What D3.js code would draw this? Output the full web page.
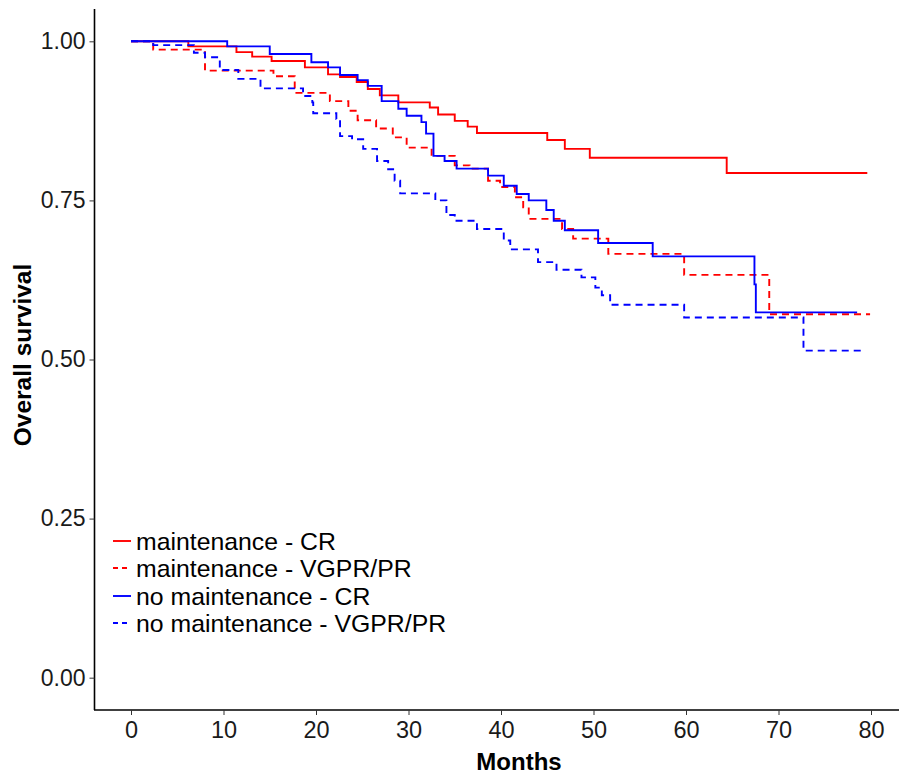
<!DOCTYPE html>
<html>
<head>
<meta charset="utf-8">
<script src="https://cdn.jsdelivr.net/npm/d3@7"></script>
<style>
  html, body { margin: 0; padding: 0; background: #fff; }
  svg { display: block; }
  text { font-family: "Liberation Sans", Arial, Helvetica, sans-serif; }
</style>
</head>
<body>
<script>
// ---- Data (months, survival probability) ----
const seriesNames = ["maintenance - CR", "maintenance - VGPR/PR", "no maintenance - CR", "no maintenance - VGPR/PR"];
const seriesColors = ["#ff0000", "#ff0000", "#0000ff", "#0000ff"];
const seriesDashed = [false, true, false, true];

const maintCR = [
  [0,1.0],[6.2,0.992],[11.4,0.983],[13.1,0.976],[15.2,0.969],[18.8,0.959],[21.3,0.948],[22.6,0.944],
  [24.4,0.936],[25.6,0.925],[26.9,0.915],[28.9,0.904],[32.3,0.896],[33.2,0.885],[35.0,0.875],
  [36.4,0.866],[37.4,0.856],[45.0,0.845],[46.9,0.831],[49.6,0.817],[64.4,0.793],[79.6,0.793]
];
const maintVGPR = [
  [0,1.0],[2.4,0.987],[8.0,0.954],[15.4,0.945],[17.7,0.919],[21.5,0.906],[23.5,0.891],[24.5,0.876],
  [26.5,0.863],[28.3,0.849],[29.8,0.833],[32.5,0.820],[35.0,0.805],[36.6,0.800],[38.6,0.781],
  [39.9,0.771],[41.5,0.755],[42.4,0.739],[43.0,0.721],[46.6,0.705],[47.8,0.690],[51.6,0.666],
  [59.8,0.633],[69.0,0.571],[79.9,0.571]
];
const noMaintCR = [
  [0,1.0],[10.4,0.992],[15.0,0.980],[19.5,0.967],[21.3,0.959],[22.6,0.947],[24.5,0.939],[25.6,0.930],
  [27.1,0.906],[28.9,0.894],[29.8,0.883],[31.4,0.873],[31.9,0.855],[32.7,0.820],[33.9,0.812],
  [35.2,0.800],[38.6,0.789],[40.3,0.773],[41.7,0.760],[43.0,0.750],[44.9,0.735],[45.7,0.718],
  [46.9,0.703],[50.5,0.683],[56.4,0.662],[67.4,0.618],[67.55,0.574],[78.5,0.574]
];
const noMaintVGPR = [
  [0,1.0],[2.4,0.994],[6.8,0.982],[8.0,0.975],[9.6,0.955],[11.6,0.941],[14.0,0.926],[18.6,0.914],
  [19.6,0.904],[19.7,0.887],[22.2,0.878],[22.6,0.851],[23.9,0.846],[25.1,0.831],[26.6,0.812],
  [27.8,0.799],[28.5,0.781],[29.1,0.761],[32.9,0.750],[34.1,0.727],[35.0,0.718],[37.4,0.705],
  [40.3,0.687],[41.0,0.673],[44.0,0.653],[46.0,0.641],[48.7,0.629],[50.2,0.613],[50.9,0.601],
  [51.8,0.586],[59.8,0.566],[72.7,0.514],[79.0,0.514]
];
const allSeries = [maintCR, maintVGPR, noMaintCR, noMaintVGPR];

const xTicks = [0, 10, 20, 30, 40, 50, 60, 70, 80];
const yTicks = [0, 0.25, 0.5, 0.75, 1.0];
const xTitle = "Months";
const yTitle = "Overall survival";

// ---- Layout ----
const W = 899, H = 780;
const svg = d3.select("body").append("svg").attr("width", W).attr("height", H);

const x = d3.scaleLinear().domain([-4, 84]).range([94, 908]);
const y = d3.scaleLinear().domain([-0.05, 1.05]).range([709.5, 9.5]);

// clip to panel
svg.append("defs").append("clipPath").attr("id", "panel")
  .append("rect").attr("x", 94).attr("y", 0).attr("width", W - 94).attr("height", 710);

// curves
const line = d3.line().x(d => x(d[0])).y(d => y(d[1])).curve(d3.curveStepAfter);
const g = svg.append("g").attr("clip-path", "url(#panel)");
allSeries.forEach((s, i) => {
  g.append("path").datum(s)
    .attr("d", line)
    .attr("fill", "none")
    .attr("stroke", seriesColors[i])
    .attr("stroke-width", 1.9)
    .attr("stroke-dasharray", seriesDashed[i] ? "7,5" : null);
});

// axes
const xAxis = d3.axisBottom(x).tickValues(xTicks).tickSize(5).tickPadding(6).tickFormat(d3.format("d"));
const yAxis = d3.axisLeft(y).tickValues(yTicks).tickSize(5).tickPadding(4).tickFormat(d3.format(".2f"));

const gx = svg.append("g").attr("transform", "translate(0,710)").call(xAxis);
gx.select(".domain").attr("d", `M94,0H${W}`).attr("stroke", "#000").attr("stroke-width", 1.6);
gx.selectAll(".tick line").attr("stroke", "#333").attr("stroke-width", 1);
gx.selectAll(".tick text").attr("font-size", 23.5).attr("fill", "#1a1a1a")
  .attr("font-family", "'Liberation Sans', Arial, sans-serif");

const gy = svg.append("g").attr("transform", "translate(94.5,0)").call(yAxis);
gy.select(".domain").attr("d", "M0,9V710").attr("stroke", "#000").attr("stroke-width", 1.6);
gy.selectAll(".tick line").attr("stroke", "#333").attr("stroke-width", 1);
gy.selectAll(".tick text").attr("font-size", 23).attr("fill", "#1a1a1a")
  .attr("font-family", "'Liberation Sans', Arial, sans-serif");

// titles
svg.append("text").attr("x", 519).attr("y", 770).attr("text-anchor", "middle")
  .attr("font-size", 24).attr("font-weight", "bold").attr("fill", "#000").text(xTitle);
svg.append("text").attr("transform", "translate(31,355) rotate(-90)").attr("text-anchor", "middle")
  .attr("font-size", 24.5).attr("font-weight", "bold").attr("fill", "#000").text(yTitle);

// legend
const legY = [541, 568, 596, 623];
const leg = svg.append("g");
seriesNames.forEach((name, i) => {
  leg.append("line")
    .attr("x1", 113).attr("x2", 131).attr("y1", legY[i]).attr("y2", legY[i])
    .attr("stroke", seriesColors[i]).attr("stroke-width", 1.9)
    .attr("stroke-dasharray", seriesDashed[i] ? "5,4" : null);
  leg.append("text").attr("x", 136).attr("y", legY[i]).attr("dy", "0.36em")
    .attr("font-size", 24.8).attr("fill", "#000").text(name);
});
</script>
</body>
</html>
